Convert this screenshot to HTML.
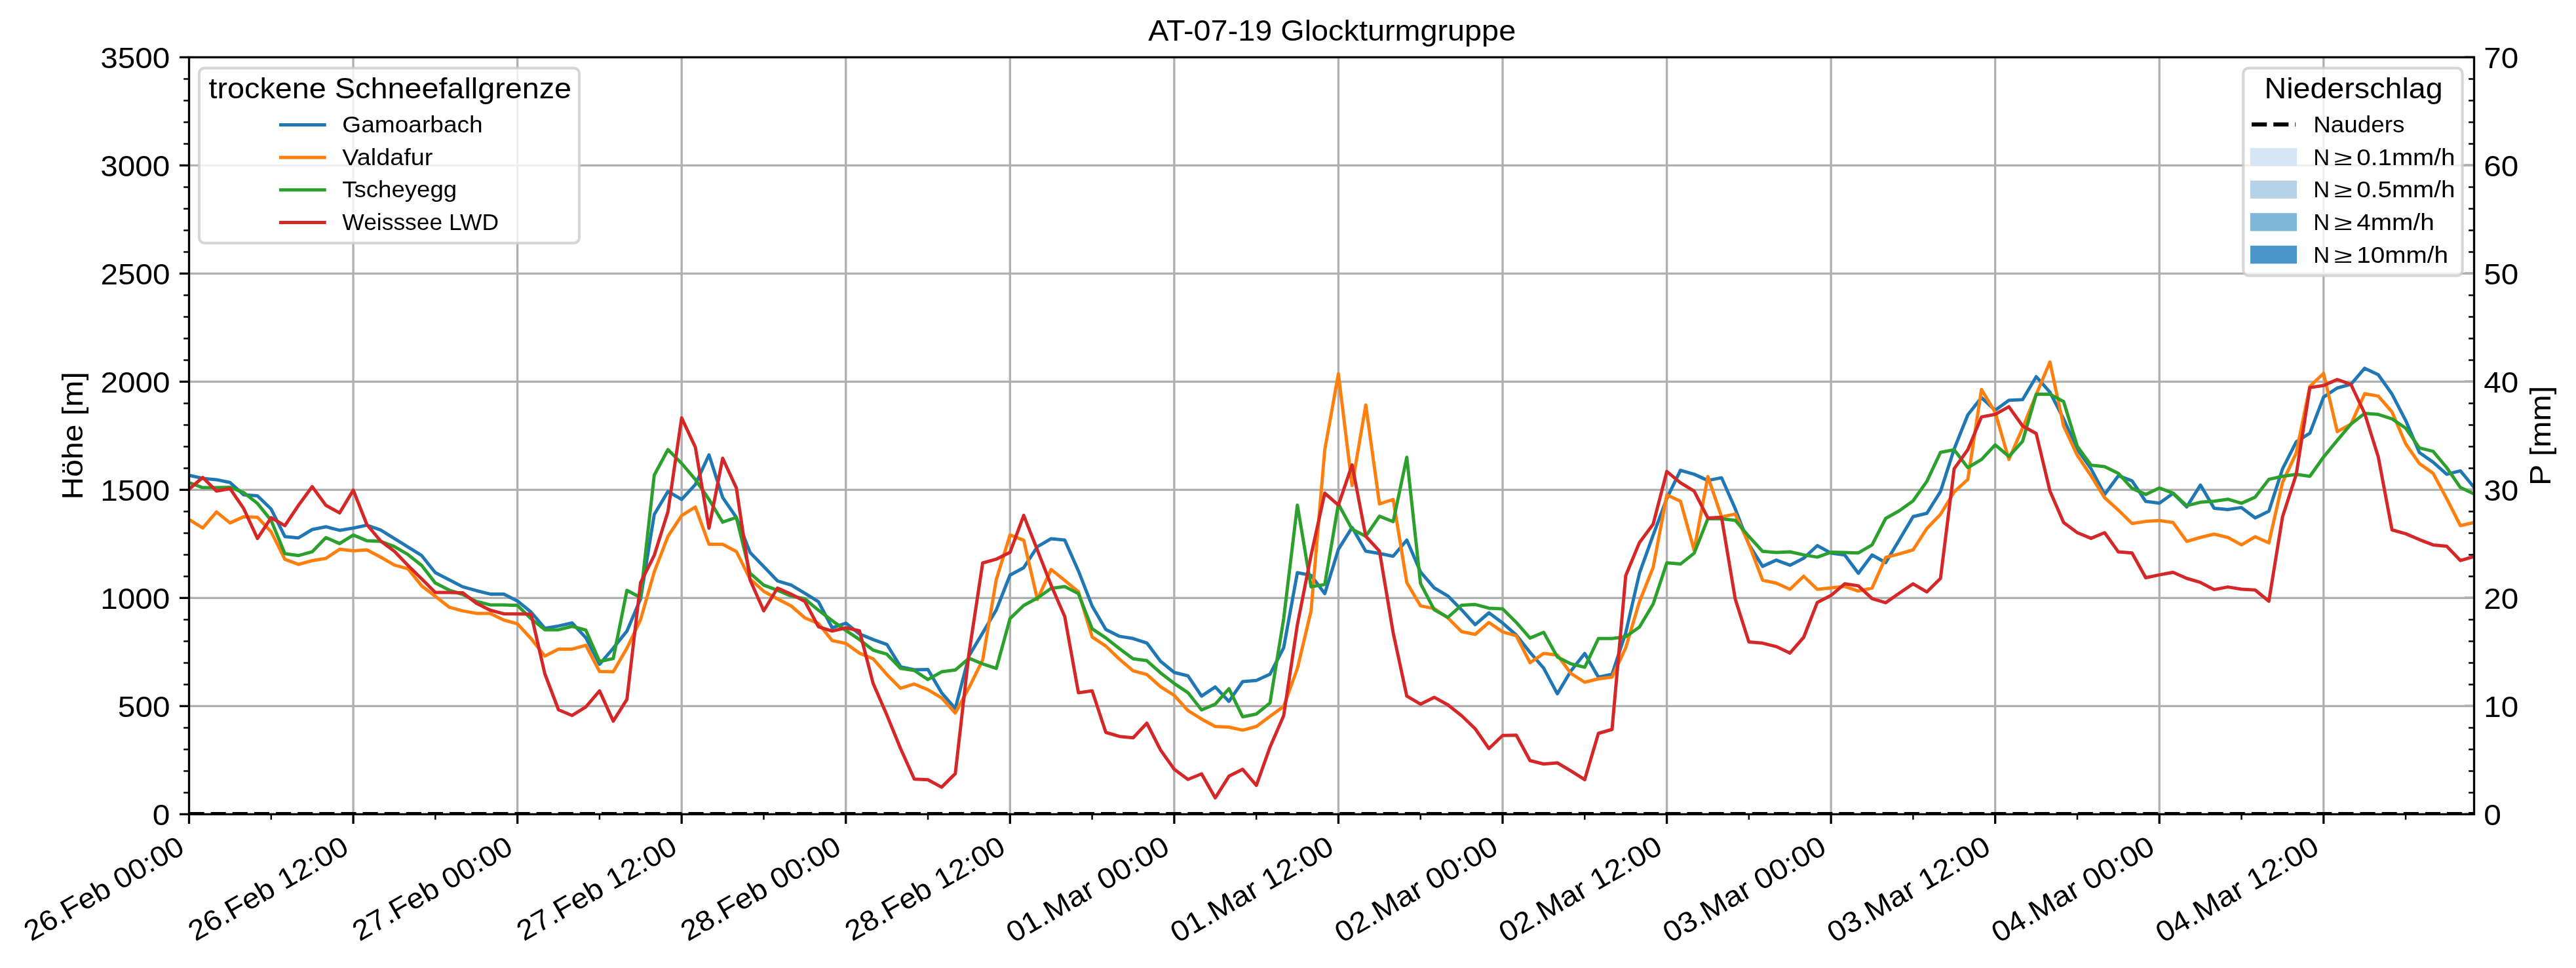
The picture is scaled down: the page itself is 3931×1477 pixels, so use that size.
<!DOCTYPE html>
<html><head><meta charset="utf-8"><title>AT-07-19 Glockturmgruppe</title>
<style>html,body{margin:0;padding:0;background:#fff;overflow:hidden}svg{display:block;will-change:transform}text{font-family:"Liberation Sans",sans-serif;fill:#000}</style></head><body>
<svg width="3931" height="1477" viewBox="0 0 3931 1477">
<rect x="0" y="0" width="3931" height="1477" fill="#fff"/>
<defs><clipPath id="ax"><rect x="288.5" y="87.4" width="3487.0" height="1155.0"/></clipPath></defs>
<path d="M3760.92 1242.40H3775.50M3760.92 1077.40H3775.50M3760.92 912.40H3775.50M3760.92 747.40H3775.50M3760.92 582.40H3775.50M3760.92 417.40H3775.50M3760.92 252.40H3775.50M3760.92 87.40H3775.50" stroke="#000" stroke-width="3.33" fill="none"/>
<path d="M3767.17 1209.40H3775.50M3767.17 1176.40H3775.50M3767.17 1143.40H3775.50M3767.17 1110.40H3775.50M3767.17 1044.40H3775.50M3767.17 1011.40H3775.50M3767.17 978.40H3775.50M3767.17 945.40H3775.50M3767.17 879.40H3775.50M3767.17 846.40H3775.50M3767.17 813.40H3775.50M3767.17 780.40H3775.50M3767.17 714.40H3775.50M3767.17 681.40H3775.50M3767.17 648.40H3775.50M3767.17 615.40H3775.50M3767.17 549.40H3775.50M3767.17 516.40H3775.50M3767.17 483.40H3775.50M3767.17 450.40H3775.50M3767.17 384.40H3775.50M3767.17 351.40H3775.50M3767.17 318.40H3775.50M3767.17 285.40H3775.50M3767.17 219.40H3775.50M3767.17 186.40H3775.50M3767.17 153.40H3775.50M3767.17 120.40H3775.50" stroke="#000" stroke-width="2.50" fill="none"/>
<path d="M539.06 87.40V1242.40M789.63 87.40V1242.40M1040.19 87.40V1242.40M1290.75 87.40V1242.40M1541.31 87.40V1242.40M1791.88 87.40V1242.40M2042.44 87.40V1242.40M2293.00 87.40V1242.40M2543.57 87.40V1242.40M2794.13 87.40V1242.40M3044.69 87.40V1242.40M3295.25 87.40V1242.40M3545.82 87.40V1242.40M288.50 1077.40H3775.50M288.50 912.40H3775.50M288.50 747.40H3775.50M288.50 582.40H3775.50M288.50 417.40H3775.50M288.50 252.40H3775.50" stroke="#b0b0b0" stroke-width="3.33" fill="none"/>
<g clip-path="url(#ax)"><path d="M288.50 1242.0H3775.50" stroke="#000" stroke-width="6.25" stroke-dasharray="23.13 10" fill="none"/></g>
<g clip-path="url(#ax)" fill="none" stroke-width="5" stroke-linejoin="round" stroke-linecap="square">
<polyline stroke="#1f77b4" points="288.5,725.3 309.4,729.9 330.3,731.9 351.1,736.3 372.0,755.1 392.9,756.5 413.8,776.8 434.7,818.7 455.5,820.7 476.4,808.0 497.3,803.7 518.2,809.2 539.1,805.7 559.9,801.4 580.8,808.6 601.7,821.6 622.6,834.6 643.5,847.7 664.3,873.7 685.2,884.4 706.1,895.4 727.0,901.2 747.9,906.4 768.7,906.4 789.6,916.9 810.5,934.0 831.4,958.6 852.3,955.1 873.1,950.5 894.0,973.1 914.9,1013.6 935.8,989.0 956.7,962.9 977.5,913.8 998.4,785.1 1019.3,749.8 1040.2,762.0 1061.1,739.4 1081.9,694.0 1102.8,759.1 1123.7,789.5 1144.6,842.9 1165.5,864.6 1186.4,886.3 1207.2,892.6 1228.1,905.1 1249.0,918.1 1269.9,958.0 1290.8,950.8 1311.6,967.2 1332.5,975.9 1353.4,983.3 1374.3,1017.4 1395.2,1022.0 1416.0,1021.4 1436.9,1057.1 1457.8,1081.2 1478.7,1000.7 1499.6,965.6 1520.4,930.5 1541.3,877.5 1562.2,866.2 1583.1,834.1 1604.0,822.0 1624.8,824.0 1645.7,871.2 1666.6,924.7 1687.5,960.4 1708.4,970.9 1729.2,974.3 1750.1,981.1 1771.0,1009.0 1791.9,1026.0 1812.8,1031.2 1833.6,1062.1 1854.5,1048.1 1875.4,1070.2 1896.3,1040.0 1917.2,1038.2 1938.0,1028.7 1958.9,988.3 1979.8,873.7 2000.7,877.9 2021.6,905.8 2042.4,838.2 2063.3,804.8 2084.2,841.0 2105.1,844.5 2126.0,848.7 2146.8,824.1 2167.7,872.6 2188.6,897.0 2209.5,909.3 2230.4,930.4 2251.2,953.2 2272.1,935.0 2293.0,950.6 2313.9,969.0 2334.8,995.4 2355.6,1019.3 2376.5,1058.6 2397.4,1023.5 2418.3,997.1 2439.2,1033.3 2460.0,1028.7 2480.9,965.5 2501.8,874.7 2522.7,816.7 2543.6,760.5 2564.4,717.6 2585.3,723.6 2606.2,733.1 2627.1,728.9 2648.0,776.3 2668.8,830.7 2689.7,864.1 2710.6,854.6 2731.5,862.4 2752.4,851.8 2773.2,832.5 2794.1,843.9 2815.0,846.8 2835.9,874.7 2856.8,846.8 2877.6,858.5 2898.5,823.5 2919.4,788.2 2940.3,783.3 2961.2,750.1 2982.1,685.0 3002.9,633.0 3023.8,606.6 3044.7,626.1 3065.6,610.7 3086.5,609.7 3107.3,574.7 3128.2,598.3 3149.1,639.2 3170.0,685.6 3190.9,715.1 3211.7,754.4 3232.6,725.9 3253.5,733.7 3274.4,765.1 3295.3,767.8 3316.1,752.8 3337.0,773.4 3357.9,740.1 3378.8,775.5 3399.7,777.5 3420.5,774.4 3441.4,790.3 3462.3,780.0 3483.2,715.3 3504.1,674.1 3524.9,660.8 3545.8,605.9 3566.7,592.0 3587.6,586.4 3608.5,561.9 3629.3,571.8 3650.2,601.3 3671.1,641.6 3692.0,690.5 3712.9,705.1 3733.7,723.7 3754.6,718.4 3775.5,743.8"/>
<polyline stroke="#ff7f0e" points="288.5,792.7 309.4,805.7 330.3,781.1 351.1,797.9 372.0,788.4 392.9,789.2 413.8,811.5 434.7,853.4 455.5,861.2 476.4,855.5 497.3,852.0 518.2,838.1 539.1,840.4 559.9,839.0 580.8,850.0 601.7,862.1 622.6,867.9 643.5,893.9 664.3,909.8 685.2,926.3 706.1,932.1 727.0,935.9 747.9,935.9 768.7,946.0 789.6,951.9 810.5,974.5 831.4,1001.1 852.3,990.4 873.1,990.4 894.0,984.6 914.9,1024.6 935.8,1025.1 956.7,989.0 977.5,945.6 998.4,872.6 1019.3,818.4 1040.2,786.6 1061.1,773.6 1081.9,830.5 1102.8,830.5 1123.7,841.5 1144.6,883.4 1165.5,902.2 1186.4,913.8 1207.2,924.5 1228.1,942.7 1249.0,951.4 1269.9,977.4 1290.8,981.7 1311.6,996.6 1332.5,1005.3 1353.4,1029.2 1374.3,1050.2 1395.2,1043.7 1416.0,1052.4 1436.9,1064.8 1457.8,1088.0 1478.7,1049.3 1499.6,1006.9 1520.4,884.2 1541.3,816.2 1562.2,824.3 1583.1,914.6 1604.0,868.9 1624.8,885.6 1645.7,903.0 1666.6,971.8 1687.5,985.8 1708.4,1005.9 1729.2,1023.6 1750.1,1029.2 1771.0,1047.8 1791.9,1061.0 1812.8,1084.2 1833.6,1097.2 1854.5,1108.5 1875.4,1109.5 1896.3,1114.1 1917.2,1108.5 1938.0,1093.0 1958.9,1077.9 1979.8,1020.0 2000.7,932.1 2021.6,686.4 2042.4,570.5 2063.3,740.9 2084.2,618.0 2105.1,769.0 2126.0,762.0 2146.8,889.0 2167.7,924.4 2188.6,928.6 2209.5,942.7 2230.4,963.8 2251.2,968.0 2272.1,949.7 2293.0,964.1 2313.9,970.1 2334.8,1011.2 2355.6,997.1 2376.5,999.6 2397.4,1027.7 2418.3,1041.0 2439.2,1035.8 2460.0,1033.3 2480.9,988.3 2501.8,918.3 2522.7,865.9 2543.6,755.2 2564.4,764.7 2585.3,839.5 2606.2,727.1 2627.1,788.6 2648.0,784.4 2668.8,830.0 2689.7,885.2 2710.6,889.8 2731.5,899.2 2752.4,879.2 2773.2,899.2 2794.1,896.9 2815.0,894.8 2835.9,901.9 2856.8,897.3 2877.6,850.5 2898.5,845.2 2919.4,839.0 2940.3,806.5 2961.2,784.8 2982.1,750.7 3002.9,731.5 3023.8,594.2 3044.7,629.2 3065.6,701.1 3086.5,653.1 3107.3,602.0 3128.2,552.4 3149.1,650.0 3170.0,694.9 3190.9,725.9 3211.7,759.4 3232.6,778.3 3253.5,798.7 3274.4,795.6 3295.3,794.3 3316.1,797.3 3337.0,826.1 3357.9,820.0 3378.8,815.0 3399.7,820.0 3420.5,831.4 3441.4,819.0 3462.3,828.3 3483.2,736.1 3504.1,691.1 3524.9,589.5 3545.8,569.7 3566.7,658.6 3587.6,647.1 3608.5,600.7 3629.3,604.4 3650.2,628.5 3671.1,677.2 3692.0,707.3 3712.9,722.1 3733.7,760.9 3754.6,802.0 3775.5,797.2"/>
<polyline stroke="#2ca02c" points="288.5,736.3 309.4,744.1 330.3,744.1 351.1,743.5 372.0,751.6 392.9,768.1 413.8,794.1 434.7,844.8 455.5,847.7 476.4,841.9 497.3,820.2 518.2,829.4 539.1,816.4 559.9,825.1 580.8,826.0 601.7,833.8 622.6,846.2 643.5,862.7 664.3,889.6 685.2,900.3 706.1,907.0 727.0,917.7 747.9,922.9 768.7,922.9 789.6,923.8 810.5,944.1 831.4,960.9 852.3,960.9 873.1,955.7 894.0,961.5 914.9,1009.2 935.8,1004.9 956.7,900.7 977.5,911.7 998.4,725.0 1019.3,685.9 1040.2,707.0 1061.1,731.6 1081.9,762.0 1102.8,796.7 1123.7,789.5 1144.6,874.7 1165.5,892.9 1186.4,900.7 1207.2,909.4 1228.1,913.8 1249.0,931.1 1269.9,947.0 1290.8,961.9 1311.6,975.9 1332.5,992.0 1353.4,998.2 1374.3,1019.9 1395.2,1023.0 1416.0,1036.9 1436.9,1025.1 1457.8,1022.3 1478.7,1004.4 1499.6,1013.0 1520.4,1019.9 1541.3,943.9 1562.2,923.8 1583.1,912.5 1604.0,897.8 1624.8,894.9 1645.7,905.9 1666.6,959.4 1687.5,973.4 1708.4,989.8 1729.2,1005.3 1750.1,1008.1 1771.0,1026.7 1791.9,1042.8 1812.8,1056.8 1833.6,1083.2 1854.5,1074.4 1875.4,1050.9 1896.3,1093.7 1917.2,1089.5 1938.0,1072.6 1958.9,944.1 1979.8,770.7 2000.7,895.4 2021.6,891.9 2042.4,769.0 2063.3,807.6 2084.2,818.2 2105.1,787.6 2126.0,796.0 2146.8,697.7 2167.7,890.2 2188.6,930.4 2209.5,942.0 2230.4,923.4 2251.2,922.3 2272.1,927.9 2293.0,929.0 2313.9,949.7 2334.8,973.6 2355.6,964.8 2376.5,1002.4 2397.4,1012.9 2418.3,1018.2 2439.2,974.3 2460.0,974.3 2480.9,971.5 2501.8,956.7 2522.7,921.8 2543.6,858.8 2564.4,860.6 2585.3,844.1 2606.2,791.4 2627.1,791.4 2648.0,793.9 2668.8,818.5 2689.7,841.3 2710.6,843.0 2731.5,842.0 2752.4,846.6 2773.2,850.1 2794.1,842.6 2815.0,843.0 2835.9,843.7 2856.8,831.3 2877.6,791.0 2898.5,779.2 2919.4,764.2 2940.3,734.6 2961.2,690.3 2982.1,686.3 3002.9,713.5 3023.8,701.1 3044.7,678.8 3065.6,696.5 3086.5,673.3 3107.3,601.4 3128.2,601.4 3149.1,612.8 3170.0,681.0 3190.9,709.8 3211.7,712.0 3232.6,722.2 3253.5,745.1 3274.4,754.4 3295.3,744.6 3316.1,752.4 3337.0,771.6 3357.9,766.3 3378.8,764.8 3399.7,761.7 3420.5,767.9 3441.4,758.6 3462.3,731.4 3483.2,726.8 3504.1,723.7 3524.9,726.8 3545.8,697.3 3566.7,671.9 3587.6,647.1 3608.5,630.7 3629.3,632.3 3650.2,639.1 3671.1,653.3 3692.0,683.4 3712.9,688.7 3733.7,713.5 3754.6,743.8 3775.5,753.7"/>
<polyline stroke="#d62728" points="288.5,746.4 309.4,728.5 330.3,749.3 351.1,745.5 372.0,776.2 392.9,821.6 413.8,789.8 434.7,802.2 455.5,771.0 476.4,742.6 497.3,771.0 518.2,782.6 539.1,747.9 559.9,800.5 580.8,825.4 601.7,841.0 622.6,862.7 643.5,883.2 664.3,904.1 685.2,904.1 706.1,904.6 727.0,920.5 747.9,931.0 768.7,936.5 789.6,936.7 810.5,936.9 831.4,1028.0 852.3,1083.0 873.1,1091.7 894.0,1078.6 914.9,1054.1 935.8,1100.3 956.7,1067.1 977.5,889.2 998.4,847.3 1019.3,780.8 1040.2,637.6 1061.1,682.4 1081.9,806.0 1102.8,699.2 1123.7,744.6 1144.6,884.8 1165.5,932.0 1186.4,897.3 1207.2,906.5 1228.1,917.5 1249.0,956.3 1269.9,962.9 1290.8,958.0 1311.6,962.5 1332.5,1043.1 1353.4,1091.1 1374.3,1142.3 1395.2,1188.8 1416.0,1189.7 1436.9,1201.1 1457.8,1180.4 1478.7,996.6 1499.6,859.0 1520.4,853.2 1541.3,842.8 1562.2,786.4 1583.1,839.3 1604.0,892.9 1624.8,940.8 1645.7,1057.1 1666.6,1054.0 1687.5,1117.5 1708.4,1123.7 1729.2,1125.8 1750.1,1103.5 1771.0,1144.4 1791.9,1173.8 1812.8,1189.3 1833.6,1180.8 1854.5,1217.4 1875.4,1184.3 1896.3,1173.8 1917.2,1198.4 1938.0,1140.1 1958.9,1092.0 1979.8,953.2 2000.7,847.3 2021.6,752.5 2042.4,770.7 2063.3,709.3 2084.2,818.2 2105.1,841.0 2126.0,965.5 2146.8,1062.1 2167.7,1074.4 2188.6,1063.9 2209.5,1075.5 2230.4,1092.0 2251.2,1112.0 2272.1,1142.2 2293.0,1122.2 2313.9,1121.8 2334.8,1160.5 2355.6,1165.7 2376.5,1164.0 2397.4,1176.3 2418.3,1189.6 2439.2,1119.0 2460.0,1113.0 2480.9,878.2 2501.8,827.9 2522.7,799.8 2543.6,719.4 2564.4,736.6 2585.3,749.3 2606.2,790.4 2627.1,789.3 2648.0,913.9 2668.8,979.6 2689.7,981.3 2710.6,986.6 2731.5,996.4 2752.4,972.5 2773.2,919.2 2794.1,908.6 2815.0,890.8 2835.9,893.9 2856.8,913.4 2877.6,919.6 2898.5,905.0 2919.4,890.8 2940.3,903.2 2961.2,882.4 2982.1,715.1 3002.9,686.3 3023.8,636.1 3044.7,632.3 3065.6,620.6 3086.5,650.0 3107.3,661.5 3128.2,749.2 3149.1,797.2 3170.0,812.7 3190.9,821.4 3211.7,812.7 3232.6,842.1 3253.5,843.7 3274.4,881.5 3295.3,877.1 3316.1,873.3 3337.0,882.5 3357.9,888.7 3378.8,899.6 3399.7,895.6 3420.5,899.0 3441.4,900.2 3462.3,917.3 3483.2,788.4 3504.1,723.7 3524.9,591.4 3545.8,588.3 3566.7,579.0 3587.6,586.7 3608.5,630.7 3629.3,697.3 3650.2,808.5 3671.1,814.4 3692.0,823.3 3712.9,831.4 3733.7,833.6 3754.6,855.3 3775.5,849.1"/>
</g>
<rect x="288.5" y="87.4" width="3487.0" height="1155.0" fill="none" stroke="#000" stroke-width="3.33"/>
<path d="M273.92 1242.40H288.50M273.92 1077.40H288.50M273.92 912.40H288.50M273.92 747.40H288.50M273.92 582.40H288.50M273.92 417.40H288.50M273.92 252.40H288.50M273.92 87.40H288.50M288.50 1242.40V1256.98M539.06 1242.40V1256.98M789.63 1242.40V1256.98M1040.19 1242.40V1256.98M1290.75 1242.40V1256.98M1541.31 1242.40V1256.98M1791.88 1242.40V1256.98M2042.44 1242.40V1256.98M2293.00 1242.40V1256.98M2543.57 1242.40V1256.98M2794.13 1242.40V1256.98M3044.69 1242.40V1256.98M3295.25 1242.40V1256.98M3545.82 1242.40V1256.98" stroke="#000" stroke-width="3.33" fill="none"/>
<path d="M280.17 1209.40H288.50M280.17 1176.40H288.50M280.17 1143.40H288.50M280.17 1110.40H288.50M280.17 1044.40H288.50M280.17 1011.40H288.50M280.17 978.40H288.50M280.17 945.40H288.50M280.17 879.40H288.50M280.17 846.40H288.50M280.17 813.40H288.50M280.17 780.40H288.50M280.17 714.40H288.50M280.17 681.40H288.50M280.17 648.40H288.50M280.17 615.40H288.50M280.17 549.40H288.50M280.17 516.40H288.50M280.17 483.40H288.50M280.17 450.40H288.50M280.17 384.40H288.50M280.17 351.40H288.50M280.17 318.40H288.50M280.17 285.40H288.50M280.17 219.40H288.50M280.17 186.40H288.50M280.17 153.40H288.50M280.17 120.40H288.50M413.78 1242.40V1250.73M664.34 1242.40V1250.73M914.91 1242.40V1250.73M1165.47 1242.40V1250.73M1416.03 1242.40V1250.73M1666.60 1242.40V1250.73M1917.16 1242.40V1250.73M2167.72 1242.40V1250.73M2418.28 1242.40V1250.73M2668.85 1242.40V1250.73M2919.41 1242.40V1250.73M3169.97 1242.40V1250.73M3420.54 1242.40V1250.73M3671.10 1242.40V1250.73" stroke="#000" stroke-width="2.50" fill="none"/>
<rect x="303.90" y="103.90" width="580.10" height="267.00" rx="8.33" ry="8.33" fill="#fff" fill-opacity="0.8" stroke="#ccc" stroke-opacity="0.8" stroke-width="4.17"/>
<rect x="3423.30" y="103.90" width="334.30" height="316.70" rx="8.33" ry="8.33" fill="#fff" fill-opacity="0.8" stroke="#ccc" stroke-opacity="0.8" stroke-width="4.17"/>
<path d="M428.5 190.53H495.2" stroke="#1f77b4" stroke-width="5" stroke-linecap="square"/>
<path d="M428.5 240.20H495.2" stroke="#ff7f0e" stroke-width="5" stroke-linecap="square"/>
<path d="M428.5 289.87H495.2" stroke="#2ca02c" stroke-width="5" stroke-linecap="square"/>
<path d="M428.5 339.53H495.2" stroke="#d62728" stroke-width="5" stroke-linecap="square"/>
<path d="M3436.1 189.98H3503.2" stroke="#000" stroke-width="6.25" stroke-dasharray="23.13 10"/>
<rect x="3436.1" y="227.90" width="66.9" height="23.3" fill="#d6e6f4" stroke="#d6e6f4" stroke-width="4.17"/>
<rect x="3436.1" y="277.57" width="66.9" height="23.3" fill="#b5d2e9" stroke="#b5d2e9" stroke-width="4.17"/>
<rect x="3436.1" y="327.23" width="66.9" height="23.3" fill="#80b8da" stroke="#80b8da" stroke-width="4.17"/>
<rect x="3436.1" y="376.90" width="66.9" height="23.3" fill="#4a96c9" stroke="#4a96c9" stroke-width="4.17"/>
<text transform="translate(47.49 1436.96) rotate(-30.0)" x="0.00" y="0" font-size="43.68" textLength="273.28" lengthAdjust="spacingAndGlyphs">26.Feb 00:00</text>
<text transform="translate(298.18 1436.90) rotate(-30.0)" x="0.00" y="0" font-size="43.68" textLength="273.28" lengthAdjust="spacingAndGlyphs">26.Feb 12:00</text>
<text transform="translate(548.76 1436.90) rotate(-30.0)" x="0.00" y="0" font-size="43.68" textLength="273.28" lengthAdjust="spacingAndGlyphs">27.Feb 00:00</text>
<text transform="translate(799.45 1436.84) rotate(-30.0)" x="0.00" y="0" font-size="43.68" textLength="273.28" lengthAdjust="spacingAndGlyphs">27.Feb 12:00</text>
<text transform="translate(1049.71 1437.02) rotate(-30.0)" x="0.00" y="0" font-size="43.68" textLength="273.28" lengthAdjust="spacingAndGlyphs">28.Feb 00:00</text>
<text transform="translate(1300.40 1436.96) rotate(-30.0)" x="0.00" y="0" font-size="43.68" textLength="273.28" lengthAdjust="spacingAndGlyphs">28.Feb 12:00</text>
<text transform="translate(1546.65 1439.46) rotate(-30.0)" x="0.00" y="0" font-size="44.35" textLength="278.24" lengthAdjust="spacingAndGlyphs">01.Mar 00:00</text>
<text transform="translate(1797.34 1439.40) rotate(-30.0)" x="0.00" y="0" font-size="44.35" textLength="278.24" lengthAdjust="spacingAndGlyphs">01.Mar 12:00</text>
<text transform="translate(2047.92 1439.40) rotate(-30.0)" x="0.00" y="0" font-size="44.35" textLength="278.24" lengthAdjust="spacingAndGlyphs">02.Mar 00:00</text>
<text transform="translate(2298.61 1439.34) rotate(-30.0)" x="0.00" y="0" font-size="44.35" textLength="278.24" lengthAdjust="spacingAndGlyphs">02.Mar 12:00</text>
<text transform="translate(2548.87 1439.52) rotate(-30.0)" x="0.00" y="0" font-size="44.35" textLength="278.24" lengthAdjust="spacingAndGlyphs">03.Mar 00:00</text>
<text transform="translate(2799.56 1439.46) rotate(-30.0)" x="0.00" y="0" font-size="44.35" textLength="278.24" lengthAdjust="spacingAndGlyphs">03.Mar 12:00</text>
<text transform="translate(3050.14 1439.46) rotate(-30.0)" x="0.00" y="0" font-size="44.35" textLength="278.24" lengthAdjust="spacingAndGlyphs">04.Mar 00:00</text>
<text transform="translate(3300.83 1439.40) rotate(-30.0)" x="0.00" y="0" font-size="44.35" textLength="278.24" lengthAdjust="spacingAndGlyphs">04.Mar 12:00</text>
<text x="232.86" y="1259.15" font-size="44.35" textLength="26.62" lengthAdjust="spacingAndGlyphs">0</text>
<text x="179.86" y="1094.12" font-size="44.35" textLength="79.63" lengthAdjust="spacingAndGlyphs">500</text>
<text x="153.36" y="929.09" font-size="44.35" textLength="106.03" lengthAdjust="spacingAndGlyphs">1000</text>
<text x="153.36" y="764.05" font-size="44.35" textLength="106.03" lengthAdjust="spacingAndGlyphs">1500</text>
<text x="153.48" y="599.02" font-size="44.35" textLength="106.03" lengthAdjust="spacingAndGlyphs">2000</text>
<text x="153.48" y="433.98" font-size="44.35" textLength="106.03" lengthAdjust="spacingAndGlyphs">2500</text>
<text x="153.23" y="268.95" font-size="44.35" textLength="106.03" lengthAdjust="spacingAndGlyphs">3000</text>
<text x="153.23" y="103.92" font-size="44.35" textLength="106.03" lengthAdjust="spacingAndGlyphs">3500</text>
<text transform="translate(126.06 762.54) rotate(-90.0)" x="0.00" y="0" font-size="43.68" textLength="195.20" lengthAdjust="spacingAndGlyphs">Höhe [m]</text>
<text x="1752.28" y="62.42" font-size="43.68" textLength="560.92" lengthAdjust="spacingAndGlyphs">AT-07-19 Glockturmgruppe</text>
<text x="318.52" y="150.42" font-size="43.68" textLength="553.60" lengthAdjust="spacingAndGlyphs">trockene Schneefallgrenze</text>
<text x="522.38" y="202.08" font-size="34.94" textLength="214.37" lengthAdjust="spacingAndGlyphs">Gamoarbach</text>
<text x="522.38" y="251.75" font-size="34.94" textLength="138.10" lengthAdjust="spacingAndGlyphs">Valdafur</text>
<text x="522.21" y="301.42" font-size="34.94" textLength="174.95" lengthAdjust="spacingAndGlyphs">Tscheyegg</text>
<text x="522.38" y="351.08" font-size="34.94" textLength="238.66" lengthAdjust="spacingAndGlyphs">Weisssee LWD</text>
<text x="3790.37" y="1259.15" font-size="44.35" textLength="26.62" lengthAdjust="spacingAndGlyphs">0</text>
<text x="3790.37" y="1094.12" font-size="44.35" textLength="53.01" lengthAdjust="spacingAndGlyphs">10</text>
<text x="3790.37" y="929.09" font-size="44.35" textLength="53.01" lengthAdjust="spacingAndGlyphs">20</text>
<text x="3790.37" y="764.05" font-size="44.35" textLength="53.01" lengthAdjust="spacingAndGlyphs">30</text>
<text x="3790.37" y="599.02" font-size="44.35" textLength="53.01" lengthAdjust="spacingAndGlyphs">40</text>
<text x="3790.37" y="433.98" font-size="44.35" textLength="53.01" lengthAdjust="spacingAndGlyphs">50</text>
<text x="3790.37" y="268.95" font-size="44.35" textLength="53.01" lengthAdjust="spacingAndGlyphs">60</text>
<text x="3790.37" y="103.92" font-size="44.35" textLength="53.01" lengthAdjust="spacingAndGlyphs">70</text>
<text transform="translate(3891.66 740.97) rotate(-90.0)" x="0.00" y="0" font-size="44.24" textLength="152.13" lengthAdjust="spacingAndGlyphs">P [mm]</text>
<text x="3455.48" y="150.42" font-size="43.68" textLength="272.15" lengthAdjust="spacingAndGlyphs">Niederschlag</text>
<text x="3530.26" y="202.08" font-size="34.94" textLength="139.25" lengthAdjust="spacingAndGlyphs">Nauders</text>
<text x="3530.26" y="251.75" font-size="35.39" textLength="24.91" lengthAdjust="spacingAndGlyphs">N</text>
<text x="3561.73" y="251.75" font-size="32.23" textLength="27.86" lengthAdjust="spacingAndGlyphs">≥</text>
<text x="3596.19" y="251.75" font-size="34.94" textLength="150.34" lengthAdjust="spacingAndGlyphs">0.1mm/h</text>
<text x="3530.26" y="301.42" font-size="35.39" textLength="24.91" lengthAdjust="spacingAndGlyphs">N</text>
<text x="3561.73" y="301.42" font-size="32.23" textLength="27.86" lengthAdjust="spacingAndGlyphs">≥</text>
<text x="3596.19" y="301.42" font-size="34.94" textLength="150.34" lengthAdjust="spacingAndGlyphs">0.5mm/h</text>
<text x="3530.26" y="351.08" font-size="35.39" textLength="24.91" lengthAdjust="spacingAndGlyphs">N</text>
<text x="3561.73" y="351.08" font-size="32.23" textLength="27.86" lengthAdjust="spacingAndGlyphs">≥</text>
<text x="3596.19" y="351.08" font-size="34.94" textLength="118.55" lengthAdjust="spacingAndGlyphs">4mm/h</text>
<text x="3530.26" y="400.75" font-size="35.39" textLength="24.91" lengthAdjust="spacingAndGlyphs">N</text>
<text x="3561.73" y="400.75" font-size="32.23" textLength="27.86" lengthAdjust="spacingAndGlyphs">≥</text>
<text x="3596.19" y="400.75" font-size="34.94" textLength="139.75" lengthAdjust="spacingAndGlyphs">10mm/h</text>
</svg></body></html>
